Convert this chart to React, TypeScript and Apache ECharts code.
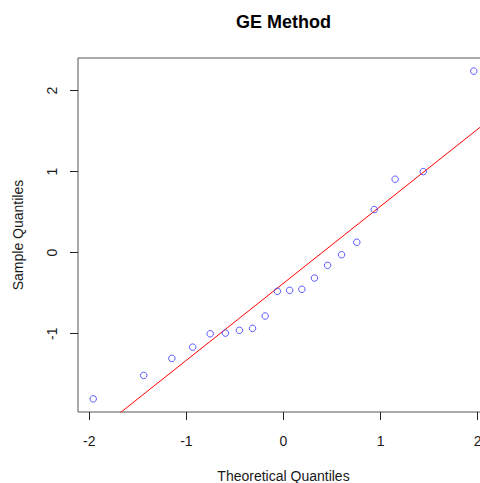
import React, { useEffect, useRef } from "react";
import * as echarts from "echarts";

// Theoretical normal quantiles (x) and sorted sample values (y)
const theoreticalQuantiles = [
  -1.96, -1.44, -1.15, -0.935, -0.755, -0.598, -0.454, -0.319, -0.189, -0.063,
  0.063, 0.189, 0.319, 0.454, 0.598, 0.755, 0.935, 1.15, 1.44, 1.96,
];
const sampleQuantiles = [
  -1.805, -1.515, -1.305, -1.166, -1.001, -0.993, -0.959, -0.934, -0.782, -0.477,
  -0.465, -0.452, -0.313, -0.156, -0.025, 0.129, 0.532, 0.907, 1.001, 2.242,
];
const xTickValues = [-2, -1, 0, 1, 2];
const yTickValues = [-1, 0, 1, 2];

const chartTitle = "GE Method";
const xTitle = "Theoretical Quantiles";
const yTitle = "Sample Quantiles";

const FONT = "'Liberation Sans', Arial, sans-serif";

function paddedRange(vals: number[]) {
  const lo = Math.min(...vals);
  const hi = Math.max(...vals);
  const pad = (hi - lo) * 0.04;
  return [lo - pad, hi + pad];
}

export default function App() {
  const ref = useRef<HTMLDivElement>(null);

  useEffect(() => {
    if (!ref.current) return;
    const chart = echarts.init(ref.current, null, { renderer: "svg" });

    const [xMin, xMax] = paddedRange(theoreticalQuantiles);
    const [yMin, yMax] = paddedRange(sampleQuantiles);

    const n = sampleQuantiles.length;
    const mean = sampleQuantiles.reduce((a, b) => a + b, 0) / n;
    const sd = Math.sqrt(
      sampleQuantiles.reduce((a, b) => a + (b - mean) * (b - mean), 0) / n
    );
    const lineData = [
      [xMin, mean + sd * xMin],
      [xMax, mean + sd * xMax],
    ];

    const points = theoreticalQuantiles.map((x, i) => [x, sampleQuantiles[i]]);

    const labelStyle = { fontFamily: FONT, fontSize: 14, color: "#1a1a1a" };

    chart.setOption({
      animation: false,
      backgroundColor: "#ffffff",
      grid: {
        left: 78,
        top: 58,
        width: 411,
        height: 354,
        outerBoundsMode: "none",
        containLabel: false,
        show: true,
        borderColor: "#555555",
        borderWidth: 1,
        backgroundColor: "transparent",
      },
      xAxis: {
        type: "value",
        min: xMin,
        max: xMax,
        axisLine: { show: false, onZero: false },
        splitLine: { show: false },
        axisTick: {
          show: true,
          customValues: xTickValues,
          length: 8,
          lineStyle: { color: "#222", width: 1 },
        },
        axisLabel: {
          ...labelStyle,
          customValues: xTickValues,
          margin: 22,
          showMinLabel: true,
          showMaxLabel: true,
        },
        name: xTitle,
        nameLocation: "middle",
        nameGap: 57,
        nameTextStyle: { ...labelStyle },
      },
      yAxis: {
        type: "value",
        min: yMin,
        max: yMax,
        axisLine: { show: false, onZero: false },
        splitLine: { show: false },
        axisTick: {
          show: true,
          customValues: yTickValues,
          length: 8,
          lineStyle: { color: "#222", width: 1 },
        },
        axisLabel: {
          ...labelStyle,
          customValues: yTickValues,
          rotate: 90,
          margin: 19,
        },
        name: yTitle,
        nameLocation: "middle",
        nameRotate: 90,
        nameGap: 53,
        nameTextStyle: { ...labelStyle },
      },
      graphic: [
        {
          type: "text",
          x: 283.5,
          y: 22,
          style: {
            text: chartTitle,
            fontFamily: FONT,
            fontSize: 18,
            fontWeight: "bold",
            fill: "#000",
            textAlign: "center",
            textVerticalAlign: "middle",
          },
        },
      ],
      series: [
        {
          type: "line",
          data: lineData,
          showSymbol: false,
          symbol: "none",
          clip: true,
          lineStyle: { color: "#ff0000", width: 1 },
          z: 2,
        },
        {
          type: "scatter",
          data: points,
          symbol: "circle",
          symbolSize: 6.5,
          itemStyle: {
            color: "rgba(0,0,0,0)",
            borderColor: "#3333ff",
            borderWidth: 1,
          },
          z: 3,
        },
      ],
    });

    return () => chart.dispose();
  }, []);

  return (
    <div
      ref={ref}
      style={{ position: "fixed", left: 0, top: 0, width: 480, height: 483, background: "#fff" }}
    />
  );
}
